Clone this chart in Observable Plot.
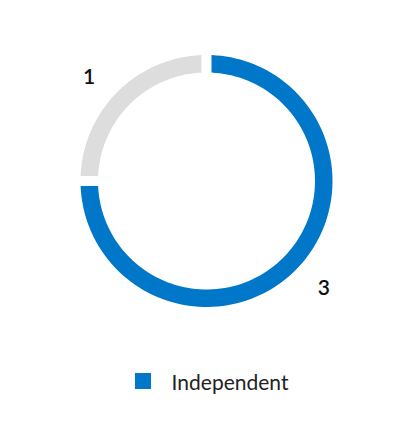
<!DOCTYPE html>
<html>
<head>
<meta charset="utf-8">
<script src="https://cdn.jsdelivr.net/npm/d3@7"></script>
<script src="https://cdn.jsdelivr.net/npm/@observablehq/plot@0.6"></script>
<style>
  html, body { margin: 0; padding: 0; background: #fff; }
  #chart { width: 412px; }
  .legend { display: flex; justify-content: center; align-items: center; height: 38px;
    padding-left: 11px; font-family: Lato, sans-serif; font-size: 21px; color: #222; }
  .legend .sw { width: 16px; height: 16px; margin-right: 21px; }
</style>
</head>
<body>
<div id="chart"></div>
<script>
const categories = ["Independent", "Other"];
const values = [3, 1];
const colors = ["#0077c8", "#dddddd"];
const legendItems = ["Independent"];

const W = 412, H = 362;
const R = 126, r = 108.5, gap = 10;
const total = d3.sum(values);

// build slice polygons in data units (1 unit = 1px), angle clockwise from top
const pts = [];
const labels = [];
let acc = 0;
values.forEach((v, i) => {
  const a0 = acc / total * 2 * Math.PI;
  acc += v;
  const a1 = acc / total * 2 * Math.PI;
  const key = categories[i];
  const N = 120;
  const po = Math.asin(gap / 2 / R), pi = Math.asin(gap / 2 / r);
  for (let k = 0; k <= N; k++) {
    const t = (a0 + po) + (a1 - a0 - 2 * po) * k / N;
    pts.push({key, x: R * Math.sin(t), y: R * Math.cos(t)});
  }
  for (let k = 0; k <= N; k++) {
    const t = (a1 - pi) - (a1 - a0 - 2 * pi) * k / N;
    pts.push({key, x: r * Math.sin(t), y: r * Math.cos(t)});
  }
  const mid = (a0 + a1) / 2 - 3 * Math.PI / 180;
  const lr = 158;
  labels.push({text: String(v), x: lr * Math.sin(mid), y: lr * Math.cos(mid)});
});

const chart = Plot.plot({
  width: W, height: H,
  margin: 0,
  x: {domain: [-206, 206], axis: null},
  y: {domain: [-181.5, 180.5], axis: null},
  color: {domain: categories, range: colors},
  style: {background: "#fff"},
  marks: [
    Plot.line(pts, {x: "x", y: "y", z: "key", fill: "key", stroke: "none", curve: "linear-closed"}),
    Plot.text(labels, {x: "x", y: "y", text: "text", dy: 2, fontSize: 21, fontWeight: 600, fontFamily: "Lato", fill: "#111"})
  ]
});
document.getElementById("chart").appendChild(chart);

const leg = document.createElement("div");
leg.className = "legend";
legendItems.forEach(name => {
  const sw = document.createElement("span");
  sw.className = "sw";
  sw.style.background = colors[categories.indexOf(name)];
  const lab = document.createElement("span");
  lab.textContent = name;
  leg.appendChild(sw);
  leg.appendChild(lab);
});
document.getElementById("chart").appendChild(leg);
</script>
</body>
</html>
